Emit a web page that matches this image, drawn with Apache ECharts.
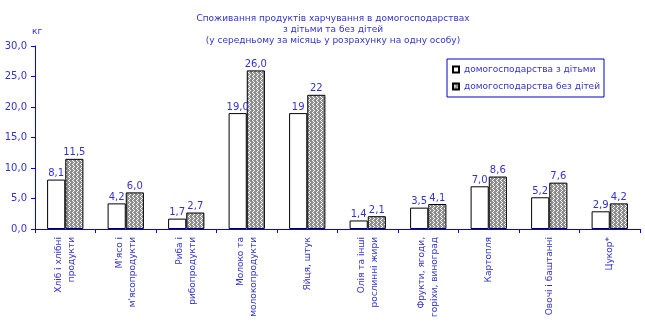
<!DOCTYPE html>
<html>
<head>
<meta charset="utf-8">
<script src="https://cdn.jsdelivr.net/npm/echarts@6/dist/echarts.min.js"></script>
<style>
  html, body { margin: 0; padding: 0; background: #fff; }
  #chart { width: 645px; height: 324px; }
</style>
</head>
<body>
<div id="chart"></div>
<script>
// Food consumption per person per month, kg (eggs in pieces)
const categories = [
  'Хліб і хлібні\nпродукти',
  "М'ясо і\nм'ясопродукти",
  'Риба і\nрибопродукти',
  'Молоко та\nмолокопродукти',
  'Яйця, штук',
  'Олія та інші\nрослинні жири',
  'Фрукти, ягоди,\nгоріхи, виноград',
  'Картопля',
  'Овочі і баштанні',
  'Цукор*'
];
const withChildren    = [8.1, 4.2, 1.7, 19.0, 19, 1.4, 3.5, 7.0, 5.2, 2.9];
const withoutChildren = [11.5, 6.0, 2.7, 26.0, 22, 2.1, 4.1, 8.6, 7.6, 4.2];
// decimals shown in the value labels for each category
const labelDecimals   = [1, 1, 1, 1, 0, 1, 1, 1, 1, 1];
const seriesNames = ['домогосподарства з дітьми', 'домогосподарства без дітей'];
const titleLines = [
  'Споживання продуктів харчування в домогосподарствах',
  'з дітьми та без дітей',
  '(у середньому за місяць у розрахунку на одну особу)'
];

const TEXT = '#3333cc';
const AXIS = '#0000ff';
const FONT = 'DejaVu Sans';

// Fine grey zigzag fill for the second series
function makeHatch() {
  const c = document.createElement('canvas');
  c.width = 4; c.height = 4;
  const g = c.getContext('2d');
  g.fillStyle = '#8e8e8e';
  g.fillRect(0, 0, 4, 4);
  g.fillStyle = '#ffffff';
  [[0, 0], [1, 1], [2, 2], [1, 3]].forEach(([x, y]) => g.fillRect(x, y, 1, 1));
  return c;
}
const hatch = { image: makeHatch(), repeat: 'repeat' };

const fmt = (v, i) => v.toFixed(labelDecimals[i]).replace('.', ',');

const chart = echarts.init(document.getElementById('chart'), null, { renderer: 'canvas' });

const labelCfg = {
  show: true,
  position: 'top',
  distance: 1,
  color: TEXT,
  fontFamily: FONT,
  fontSize: 10,
  formatter: p => fmt(p.value, p.dataIndex)
};

chart.setOption({
  backgroundColor: '#ffffff',
  animation: false,
  textStyle: { fontFamily: FONT },
  title: {
    text: titleLines.join('\n'),
    left: 328,
    textAlign: 'center',
    top: 8,
    textStyle: { color: TEXT, fontFamily: FONT, fontSize: 9, fontWeight: 'normal', lineHeight: 11 }
  },
  graphic: [{
    type: 'text',
    left: 32,
    top: 27,
    style: { text: 'кг', fill: TEXT, font: '9px "DejaVu Sans"' }
  }],
  legend: {
    orient: 'vertical',
    left: 447,
    top: 59,
    width: 160,
    padding: [6, 4, 6, 5],
    itemWidth: 6,
    itemHeight: 6,
    itemGap: 8,
    borderColor: '#0000cc',
    borderWidth: 1,
    icon: 'rect',
    textStyle: { color: TEXT, fontFamily: FONT, fontSize: 9, padding: [0, 0, 0, 0] },
    data: seriesNames
  },
  grid: { left: 35, right: 5, top: 46, bottom: 95, containLabel: false },
  xAxis: {
    type: 'category',
    data: categories,
    axisLine: { lineStyle: { color: AXIS, width: 1 } },
    axisTick: { show: true, inside: false, length: 4, lineStyle: { color: AXIS } },
    axisLabel: {
      rotate: 90,
      interval: 0,
      margin: 8,
      color: TEXT,
      fontFamily: FONT,
      fontSize: 9,
      lineHeight: 13
    }
  },
  yAxis: {
    type: 'value',
    min: 0,
    max: 30,
    interval: 5,
    axisLine: { show: true, lineStyle: { color: AXIS, width: 1 } },
    axisTick: { show: true, inside: false, length: 4, lineStyle: { color: AXIS } },
    splitLine: { show: false },
    axisLabel: {
      margin: 8,
      color: TEXT,
      fontFamily: FONT,
      fontSize: 10,
      formatter: v => v.toFixed(1).replace('.', ',')
    }
  },
  series: [
    {
      name: seriesNames[0],
      type: 'bar',
      data: withChildren,
      barGap: '0%',
      barCategoryGap: '40%',
      itemStyle: { color: '#ffffff', borderColor: '#000000', borderWidth: 1 },
      label: labelCfg
    },
    {
      name: seriesNames[1],
      type: 'bar',
      data: withoutChildren,
      barGap: '0%',
      barCategoryGap: '40%',
      itemStyle: { color: hatch, borderColor: '#000000', borderWidth: 1 },
      label: labelCfg
    }
  ]
});
</script>
</body>
</html>
